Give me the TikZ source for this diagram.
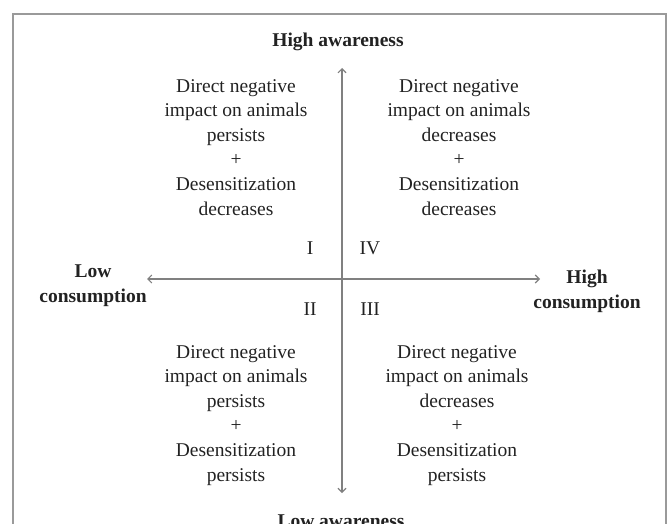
\documentclass[tikz,border=0pt]{standalone}
\usepackage{fontspec}
\setmainfont{Liberation Serif}
\usetikzlibrary{arrows.meta}
\definecolor{txt}{HTML}{222222}
\definecolor{axis}{HTML}{808080}
\definecolor{frame}{HTML}{9A9A9A}
\tikzset{
  quad/.style={align=center, inner sep=0pt, anchor=north, text=txt,
    font=\fontsize{19.5}{24.6}\selectfont},
  axislabel/.style={align=center, inner sep=0pt, text=txt,
    font=\fontsize{19.5}{25}\selectfont\bfseries},
  numeral/.style={inner sep=0pt, text=txt, font=\fontsize{19.5}{24}\selectfont},
  axisarrow/.style={draw=axis, line width=1.1pt,
    {Straight Barb[length=4pt,width=8pt]}-{Straight Barb[length=4pt,width=8pt]}}
}
\begin{document}
\begin{tikzpicture}[x=1pt,y=-1pt]
\useasboundingbox (0,0) rectangle (669,524);
\clip (0,0) rectangle (669,524);
\draw[frame, line width=1.2pt] (13,14) rectangle (666,570);

\coordinate (top) at (342,68);
\coordinate (bottom) at (342,493);
\coordinate (left) at (147,279);
\coordinate (right) at (540,279);
\draw[axisarrow] (bottom) -- (top);
\draw[axisarrow] (left) -- (right);

\node[axislabel, anchor=base] (highaw) at (338,47) {High awareness};
\node[axislabel, anchor=base] (lowaw) at (341,527) {Low awareness};
\node[axislabel, anchor=north] (lowcons) at (93,265) {Low\\consumption};
\node[axislabel, anchor=north] (highcons) at (587,270) {High\\consumption};

\node[quad] (q1) at (236,79) {Direct negative\\impact on animals\\persists\\+\\Desensitization\\decreases};
\node[quad] (q4) at (459,79) {Direct negative\\impact on animals\\decreases\\+\\Desensitization\\decreases};
\node[quad] (q2) at (236,345) {Direct negative\\impact on animals\\persists\\+\\Desensitization\\persists};
\node[quad] (q3) at (457,345) {Direct negative\\impact on animals\\decreases\\+\\Desensitization\\persists};

\node[numeral] (nI) at (310,248) {I};
\node[numeral] (nIV) at (370,248) {IV};
\node[numeral] (nII) at (310,309) {II};
\node[numeral] (nIII) at (370,309) {III};
\end{tikzpicture}
\end{document}
